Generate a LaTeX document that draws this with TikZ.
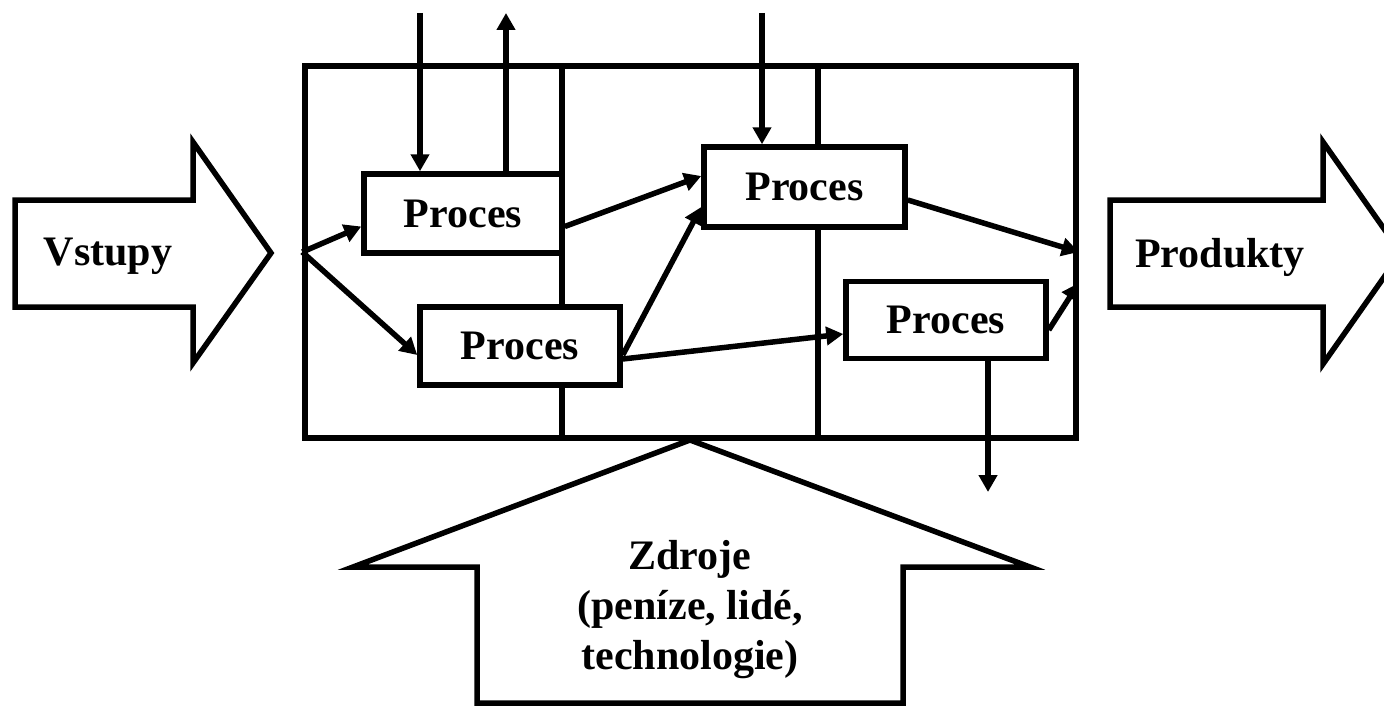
\documentclass[tikz,border=0pt]{standalone}
\usepackage{fontspec}
\setmainfont{Liberation Serif}
\usetikzlibrary{arrows.meta,calc}
\begin{document}
\begin{tikzpicture}[x=0.5pt,y=-0.5pt,
  thick line/.style={line width=2.75pt},
  conn/.style={line width=2.75pt,-{Triangle[length=8.5pt,width=9pt]}},
  procbox/.style={draw,line width=2.75pt,fill=white,inner sep=0pt,minimum height=39pt,minimum width=100pt,
    font=\fontsize{21}{25}\selectfont\bfseries},
  bigarrow/.style={draw,line width=2.75pt,fill=white,line join=miter},
  label/.style={font=\fontsize{21}{25}\selectfont\bfseries,align=center,inner sep=0pt}]
\useasboundingbox (0,0) rectangle (1384,706);
\clip (0,0) rectangle (1384,706);
% frame
\node[draw,line width=2.75pt,minimum width=385.5pt,minimum height=186pt,inner sep=0pt] (frame) at (690.5,252) {};
\coordinate (d1t) at (562,66);
\coordinate (d1b) at (562,438);
\coordinate (d2t) at (818,66);
\coordinate (d2b) at (818,438);
\draw[thick line] (d1t) -- (d1b);
\draw[thick line] (d2t) -- (d2b);
% boxes
\node[procbox,minimum width=99pt,minimum height=39.5pt] (b1) at (463,213.5) {Proces};
\node[procbox,minimum width=100pt,minimum height=39pt] (b2) at (520,346) {Proces};
\node[procbox,minimum width=100.5pt,minimum height=40pt] (b3) at (804.5,187) {Proces};
\node[procbox,minimum width=100pt,minimum height=38.5pt] (b4) at (946,320) {Proces};
% connectors
\draw[conn] (frame.west) -- ($(b1.west)+(0,13)$);
\draw[conn] (frame.west) -- ($(b2.west)+(0,9)$);
\draw[conn] ($(b1.east)+(0,13)$) -- ($(b3.west)+(0,-11)$);
\draw[conn] ($(b2.east)+(0,9)$) -- ($(b3.west)+(0,20)$);
\draw[conn] ($(b2.east)+(0,13)$) -- ($(b4.west)+(0,14)$);
\draw[conn] ($(b3.east)+(0,13)$) -- (frame.east);
\draw[conn] ($(b4.east)+(0,10)$) -- ($(frame.east)+(0,31)$);
\coordinate (in1) at (420,13);
\coordinate (out1) at (506,13);
\coordinate (in3) at (762,13);
\coordinate (out4) at (988,492);
\draw[conn] (in1) -- (in1 |- b1.north);
\draw[conn] (out1 |- b1.north) -- (out1);
\draw[conn] (in3) -- (in3 |- b3.north);
\draw[conn] (out4 |- b4.south) -- (out4);
% big arrows
\draw[bigarrow] (15,200) -- (193,200) -- (193,142) -- (271,253) -- (193,363) -- (193,307) -- (15,307) -- cycle;
\node[label] (vst) at (108,256) {Vstupy};
\draw[bigarrow] (1110,200) -- (1323,200) -- (1323,142) -- (1401,253) -- (1323,364) -- (1323,307) -- (1110,307) -- cycle;
\node[label] (prod) at (1220,257) {Produkty};
\draw[bigarrow] (690,440) -- (1030,567) -- (903,567) -- (903,703) -- (477,703) -- (477,567) -- (353,567) -- cycle;
\node[label] (zdr) at (690,610) {Zdroje\\(peníze, lidé,\\technologie)};
\end{tikzpicture}
\end{document}
